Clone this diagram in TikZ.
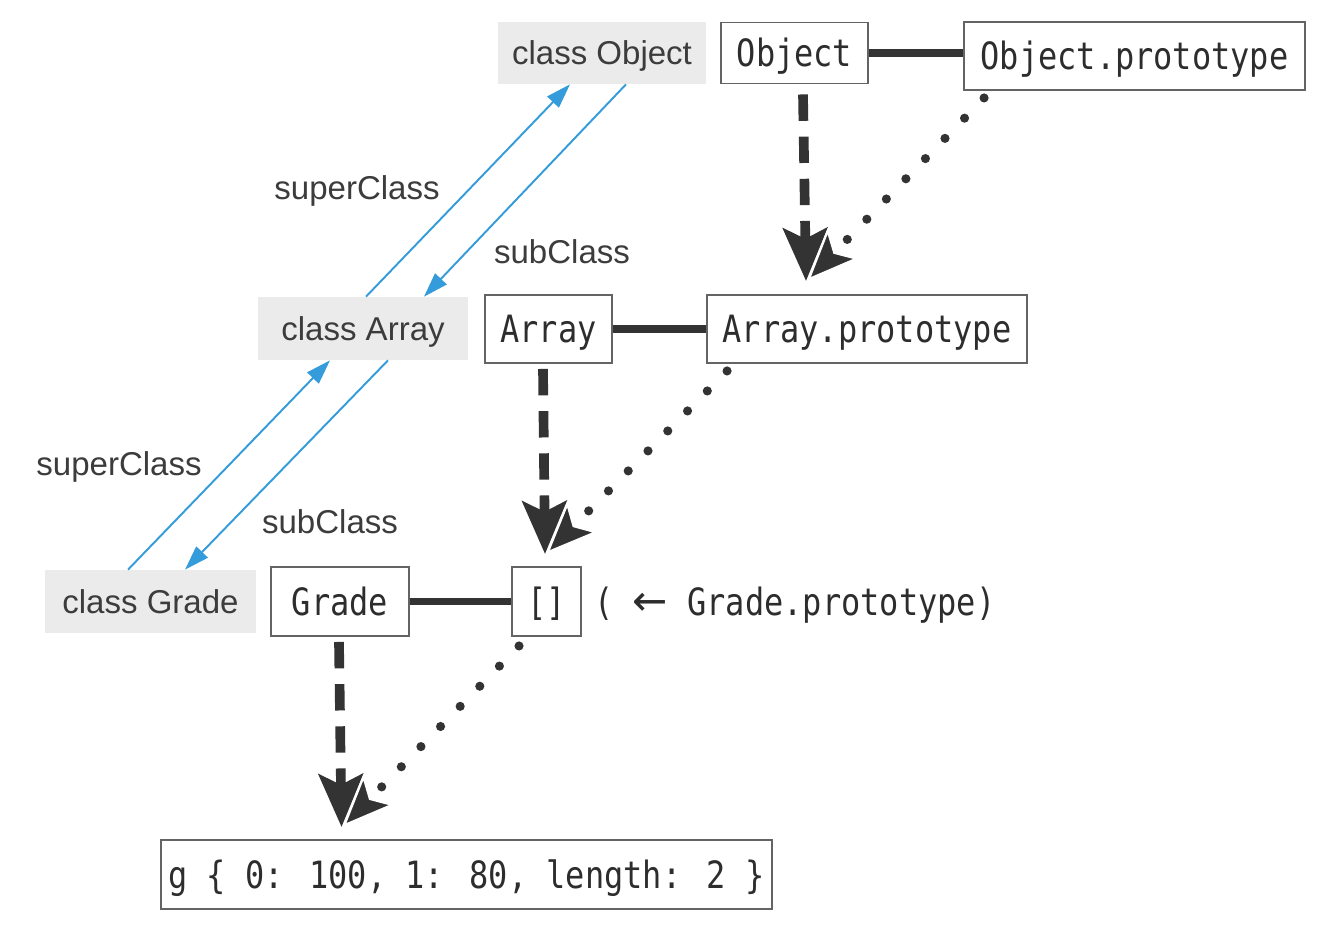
\documentclass[tikz,border=0pt]{standalone}
\usepackage{fontspec}
\setmainfont{Liberation Sans}
\newfontfamily\codefont[FakeStretch=0.85]{DejaVu Sans Mono}
\newfontfamily\arrowfont{DejaVu Sans}
\usetikzlibrary{arrows.meta}
\definecolor{cdark}{RGB}{51,51,51}
\definecolor{cborder}{RGB}{100,100,100}
\definecolor{ctext}{RGB}{45,45,45}
\definecolor{clabel}{RGB}{60,60,60}
\definecolor{cgray}{RGB}{235,235,235}
\definecolor{cblue}{RGB}{52,156,218}
\begin{document}
\begin{tikzpicture}[x=0.02cm,y=-0.02cm,
  codebox/.style={draw=cborder, line width=1.1pt, fill=white, inner sep=0pt,
    font=\fontsize{21.4}{24}\codefont, text=ctext, text height=15.6pt, text depth=0pt},
  classbox/.style={fill=cgray, inner sep=0pt, font=\fontsize{18.8}{22}\selectfont,
    text=clabel, text height=13.5pt, text depth=0pt},
  lbl/.style={inner sep=0pt, font=\fontsize{18.8}{22}\selectfont, text=clabel},
  bluearr/.style={draw=cblue, line width=1.1pt, -{Triangle[length=14pt,width=9pt]}},
  link/.style={draw=cdark, line width=4pt},
  protoarr/.style={draw=cdark, line width=5.5pt, dash pattern=on 15pt off 9pt,
    -{Stealth[length=30pt,width=25pt,inset=6pt]}},
  chainarr/.style={draw=cdark, line width=5.2pt, line cap=round, dash pattern=on 0pt off 16pt,
    -{Stealth[length=30pt,width=25pt,inset=7pt,fill=cdark,color=white,line width=1.2pt]}},
]
\fill[white] (0,0) rectangle (1318,926);
\useasboundingbox (0,0) rectangle (1318,926);

% nodes
\node[classbox, minimum width=4.16cm, minimum height=1.24cm] (cobj) at (602,53) {class Object};
\node[codebox, minimum width=2.94cm, minimum height=1.22cm] (obj) at (794.5,53) {Object};
\node[codebox, minimum width=6.82cm, minimum height=1.36cm] (op) at (1134.5,56) {Object.prototype};

\node[classbox, minimum width=4.2cm, minimum height=1.26cm] (carr) at (363,328.5) {class Array};
\node[codebox, minimum width=2.54cm, minimum height=1.36cm] (arr) at (548.5,329) {Array};
\node[codebox, minimum width=6.4cm, minimum height=1.36cm] (ap) at (867,329) {Array.prototype};

\node[classbox, minimum width=4.22cm, minimum height=1.26cm] (cgr) at (150.5,601.5) {class Grade};
\node[codebox, minimum width=2.76cm, minimum height=1.38cm] (gr) at (340,601.5) {Grade};
\node[codebox, minimum width=1.38cm, minimum height=1.38cm] (gp) at (546.5,601.5) {[]};
\node[anchor=west, inner sep=0pt, font=\fontsize{21.4}{24}\codefont, text=ctext,
  text height=15.6pt, text depth=0pt] (gpl) at (594,601.5) {( {\arrowfont\fontsize{24}{24}\selectfont ←} Grade.prototype)};

\node[codebox, minimum width=12.22cm, minimum height=1.38cm] (g) at (466.5,874.5) {g \{ 0: 100, 1: 80, length: 2 \}};

% labels
\node[lbl] (l1) at (357,191) {superClass};
\node[lbl] (l2) at (562,252) {subClass};
\node[lbl] (l3) at (119,467) {superClass};
\node[lbl] (l4) at (330,522) {subClass};

% solid links
\draw[link] (obj.east) -- (obj.east -| op.west);
\draw[link] (arr.east) -- (ap.west);
\draw[link] (gr.east) -- (gp.west);

% blue class arrows
\draw[bluearr] ([xshift=0.06cm]carr.north) -- ([xshift=-0.64cm]cobj.south);
\draw[bluearr] ([xshift=0.48cm]cobj.south) -- ([xshift=1.22cm]carr.north);
\draw[bluearr] ([xshift=-0.45cm]cgr.north) -- ([xshift=-0.66cm]carr.south);
\draw[bluearr] ([xshift=0.5cm]carr.south) -- ([xshift=0.69cm]cgr.north);

% prototype arrows
\draw[protoarr] ([xshift=0.17cm,yshift=-0.2cm]obj.south) -- ([xshift=-1.22cm,yshift=0.26cm]ap.north);
\draw[chainarr] ([xshift=0.42cm,yshift=-0.14cm]op.south west) -- ([xshift=-1.2cm,yshift=0.26cm]ap.north);

\draw[protoarr] ([xshift=-0.11cm,yshift=-0.1cm]arr.south) -- ([xshift=-0.03cm,yshift=0.24cm]gp.north);
\draw[chainarr] ([xshift=0.42cm,yshift=-0.14cm]ap.south west) -- ([xshift=-0.01cm,yshift=0.24cm]gp.north);

\draw[protoarr] ([xshift=-0.02cm,yshift=-0.1cm]gr.south) -- ([xshift=-2.5cm,yshift=0.24cm]g.north);
\draw[chainarr] ([xshift=0.16cm,yshift=-0.18cm]gp.south west) -- ([xshift=-2.48cm,yshift=0.24cm]g.north);
\end{tikzpicture}
\end{document}
